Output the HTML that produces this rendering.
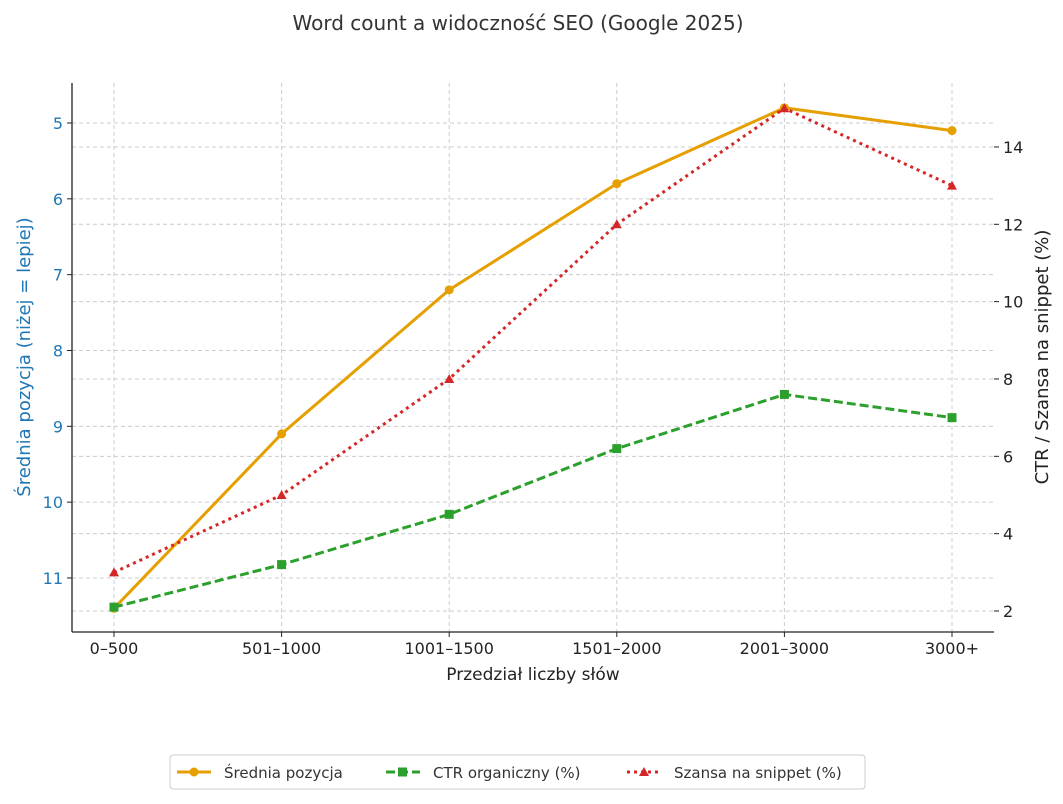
<!DOCTYPE html>
<html><head><meta charset="utf-8"><style>
body{margin:0;background:#fff;font-family:"DejaVu Sans","Liberation Sans",sans-serif}
svg text{font-family:"DejaVu Sans","Liberation Sans",sans-serif}
</style></head><body>
<svg id="chart" width="1063" height="800" xmlns="http://www.w3.org/2000/svg">
<text x="518" y="30" text-anchor="middle" font-size="20" fill="#333">Word count a widoczność SEO (Google 2025)</text>
<g id="grid"></g><g id="axes"></g><g id="series"></g>
<g>
<rect x="170" y="755" width="695" height="34" rx="3" fill="#fff" stroke="#ccc"/>
<g><line x1="177" y1="772" x2="211" y2="772" stroke="#e69f00" stroke-width="3"/><circle cx="194" cy="772" r="4.5" fill="#e69f00"/><text x="224" y="778" font-size="15" fill="#333">Średnia pozycja</text></g>
<g><line x1="386" y1="772" x2="420" y2="772" stroke="#2ca02c" stroke-width="3" stroke-dasharray="9,4"/><rect x="398" y="767.5" width="9" height="9" fill="#2ca02c"/><text x="433" y="778" font-size="15" fill="#333">CTR organiczny (%)</text></g>
<g><line x1="627" y1="772" x2="661" y2="772" stroke="#d62728" stroke-width="3" stroke-dasharray="3,4"/><polygon points="644,767 649,776 639,776" fill="#d62728"/><text x="674" y="778" font-size="15" fill="#333">Szansa na snippet (%)</text></g>
</g>
</svg>
<script>
const categories=["0–500","501–1000","1001–1500","1501–2000","2001–3000","3000+"];
const positionValues=[11.4,9.1,7.2,5.8,4.8,5.1];
const ctrValues=[2.1,3.2,4.5,6.2,7.6,7.0];
const snippetValues=[3,5,8,12,15,13];
const leftTicks=[5,6,7,8,9,10,11];
const rightTicks=[2,4,6,8,10,12,14];
const NS="http://www.w3.org/2000/svg";
const L=72,R=994,T=83,B=632;
const x=i=>114+i*(952-114)/(categories.length-1);
const yL=v=>123+(v-5)*75.83;
const yR=v=>611-(v-2)*38.67;
function mk(tag,attrs,parent,txt){const e=document.createElementNS(NS,tag);for(const k in attrs)e.setAttribute(k,attrs[k]);if(txt!==undefined)e.textContent=txt;parent.appendChild(e);return e;}
const grid=document.getElementById('grid'),axes=document.getElementById('axes'),series=document.getElementById('series');
categories.forEach((c,i)=>{
 const g=mk('line',{x1:x(i),x2:x(i),y1:T,y2:B,stroke:'#ccc','stroke-dasharray':'4,3'},grid);
 
 
 mk('line',{x1:x(i),x2:x(i),y1:B,y2:B+5,stroke:'#222'},axes);
 const t=mk('text',{x:x(i),y:B+22,'text-anchor':'middle','font-size':16,fill:'#222'},axes,c);
 
 
});
leftTicks.forEach(v=>{
 const g=mk('line',{x1:L,x2:R,y1:yL(v),y2:yL(v),stroke:'#ccc','stroke-dasharray':'4,3'},grid);
 
 
 mk('line',{x1:L-5,x2:L,y1:yL(v),y2:yL(v),stroke:'#222'},axes);
 const t=mk('text',{x:L-9,y:yL(v)+6,'text-anchor':'end','font-size':16,fill:'#1f77b4'},axes,v);
 
 
});
rightTicks.forEach(v=>{
 const g=mk('line',{x1:L,x2:R,y1:yR(v),y2:yR(v),stroke:'#ccc','stroke-dasharray':'4,3'},grid);
 
 
 mk('line',{x1:R,x2:R+5,y1:yR(v),y2:yR(v),stroke:'#222'},axes);
 const t=mk('text',{x:R+9,y:yR(v)+6,'font-size':16,fill:'#222'},axes,v);
 
 
});
mk('line',{x1:L,x2:L,y1:T,y2:B,stroke:'#222','stroke-width':1.3},axes);
mk('line',{x1:L,x2:R,y1:B,y2:B,stroke:'#222','stroke-width':1.3},axes);
let t=mk('text',{x:533,y:680,'text-anchor':'middle','font-size':17,fill:'#222'},axes,'Przedział liczby słów');

t=mk('text',{x:0,y:0,'text-anchor':'middle','font-size':18,fill:'#1f77b4',transform:'translate(30,357) rotate(-90)'},axes,'Średnia pozycja (niżej = lepiej)');

t=mk('text',{x:0,y:0,'text-anchor':'middle','font-size':18,fill:'#222',transform:'translate(1048,357) rotate(-90)'},axes,'CTR / Szansa na snippet (%)');

function line(vals,yf,color,dash,name){
 const p=mk('polyline',{points:vals.map((v,i)=>x(i)+','+yf(v)).join(' '),fill:'none',stroke:color,'stroke-width':3,'stroke-dasharray':dash},series);
 
 
}
line(positionValues,yL,'#e69f00','none','position');
line(ctrValues,yR,'#2ca02c','9,4','ctr');
line(snippetValues,yR,'#d62728','3,4','snippet');
positionValues.forEach((v,i)=>{const m=mk('circle',{cx:x(i),cy:yL(v),r:4.5,fill:'#e69f00'},series);
 
 });
ctrValues.forEach((v,i)=>{const m=mk('rect',{x:x(i)-4.5,y:yR(v)-4.5,width:9,height:9,fill:'#2ca02c'},series);
 
 });
snippetValues.forEach((v,i)=>{const X=x(i),Y=yR(v);const m=mk('polygon',{points:`${X},${Y-5} ${X+5},${Y+4} ${X-5},${Y+4}`,fill:'#d62728'},series);
 
 });
</script>
</body></html>
